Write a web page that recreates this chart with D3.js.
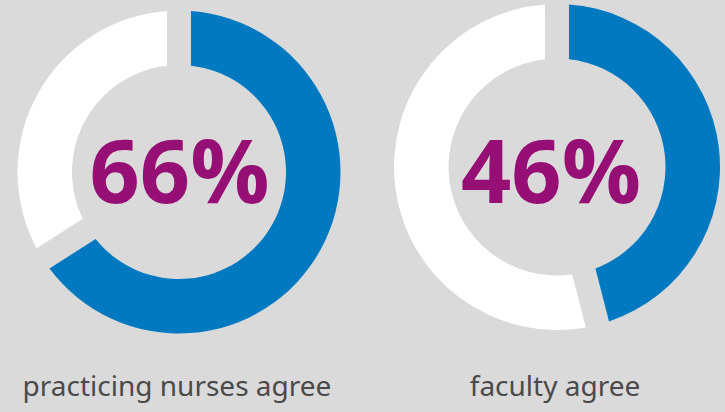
<!DOCTYPE html>
<html>
<head>
  <title>Donuts</title>
  <script src="https://cdn.jsdelivr.net/npm/d3@7"></script>
  <style>
    body { margin: 0; background: #dadada; }
  </style>
</head>
<body>
  <svg width="725" height="412" id="mainsvg"></svg>
  <script>
    // data
    const groups = ["practicing nurses agree", "faculty agree"];
    const agreeValues = [66, 46];

    const svg = d3.select('#mainsvg');
    svg.append('rect').attr('width', 725).attr('height', 412).attr('fill', '#dadada');

    // layout per donut
    const centers = [{ x: 179, y: 172, r: 161.5, ir: 107, tx: 179.5, lx: 177 },
                     { x: 557, y: 167, r: 163, ir: 108.5, tx: 551, lx: 555 }];

    const pie = d3.pie().sort(null).value(d => d);
    const colors = ['#0079c1', '#ffffff'];

    groups.forEach((name, i) => {
      const c = centers[i];
      const v = agreeValues[i];
      const arc = d3.arc()
        .innerRadius(c.ir)
        .outerRadius(c.r)
        .padRadius(100)
        .padAngle(0.24);

      const g = svg.append('g').attr('transform', `translate(${c.x}, ${c.y})`);
      g.selectAll('path').data(pie([v, 100 - v])).join('path')
        .attr('d', arc)
        .attr('fill', (d, j) => colors[j]);

      svg.append('text')
        .attr('x', c.tx).attr('y', 203)
        .attr('text-anchor', 'middle')
        .attr('font-family', 'Open Sans')
        .attr('font-weight', 700)
        .attr('font-size', 88)
        .attr('fill', '#960f74')
        .text(v + '%');

      svg.append('text')
        .attr('x', c.lx).attr('y', 396)
        .attr('text-anchor', 'middle')
        .attr('font-family', 'Noto Sans')
        .attr('font-size', 28)
        .attr('fill', '#4a4a4a')
        .text(name);
    });
  </script>
</body>
</html>
